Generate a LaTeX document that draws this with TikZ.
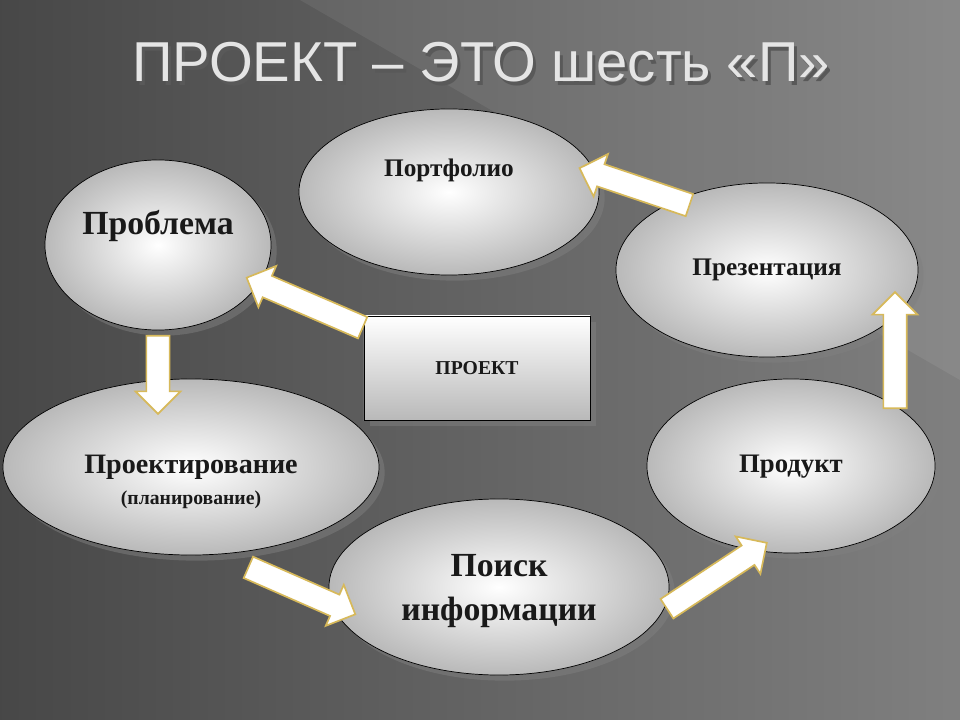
\documentclass[tikz,border=0pt]{standalone}
\usepackage{fontspec}
\setmainfont{Liberation Serif}
\newfontfamily\titlefont{Liberation Sans}
\usetikzlibrary{calc, positioning, shapes.geometric, shapes.arrows, shadows}
\definecolor{arrgold}{RGB}{215,185,90}
\tikzset{
  bubble/.style={ellipse, draw=black, line width=0.5pt, inner color=white, outer color=gray!55,
    drop shadow={shadow xshift=4pt, shadow yshift=-4pt, opacity=0.5}},
  label/.style={font=\bfseries, text=black!90},
  blockarr/.style={single arrow, draw=arrgold, line width=1.2pt, fill=white, inner xsep=0pt,
    inner ysep=0.27cm, minimum width=1.1cm, single arrow head extend=0.27cm,
    single arrow head indent=0pt, anchor=center}
}
\newcommand{\blockarrow}[2]{%
  \path let \p1=($(#2)-(#1)$), \n1={atan2(\y1,\x1)}, \n2={veclen(\x1,\y1)} in
    node[blockarr, rotate=\n1, minimum height=\n2] at ($(#1)!0.5!(#2)$) {};}
\begin{document}
\begin{tikzpicture}[x=0.025cm, y=-0.025cm]
  % background
  \shade[left color=black!72, right color=black!50] (0,0) rectangle (960,720);
  \fill[white, opacity=0.07] (300,0) -- (960,0) -- (960,380) -- cycle;
  \useasboundingbox (0,0) rectangle (960,720);
  % title
  \node[text=black!65, font=\titlefont\fontsize{40}{46}\selectfont] (titleshadow) at (484,66) {ПРОЕКТ – ЭТО шесть «П»};
  \node[text=gray!20, font=\titlefont\fontsize{40}{46}\selectfont] (title) at (481,62) {ПРОЕКТ – ЭТО шесть «П»};
  % bubbles
  \node[bubble, minimum width=5.65cm, minimum height=4.25cm] (problem) at (158,245) {};
  \node[bubble, minimum width=7.5cm, minimum height=4.15cm] (portfolio) at (449,192) {};
  \node[bubble, minimum width=7.55cm, minimum height=4.35cm] (present) at (767,270) {};
  \node[draw=black, line width=0.5pt, top color=white, bottom color=gray!55,
    drop shadow={shadow xshift=4pt, shadow yshift=-4pt, opacity=0.5},
    minimum width=5.65cm, minimum height=2.6cm] (project) at (477,368) {};
  \node[bubble, minimum width=9.4cm, minimum height=4.4cm] (design) at (191,467) {};
  \node[bubble, minimum width=8.5cm, minimum height=4.4cm] (search) at (499,587) {};
  \node[bubble, minimum width=7.2cm, minimum height=4.35cm] (product) at (791,466) {};
  % texts
  \node[label, font=\bfseries\fontsize{24}{27}\selectfont] (problemtxt) at (158,226) {Проблема};
  \node[label, font=\bfseries\fontsize{18}{21}\selectfont] (portfoliotxt) at (449,170) {Портфолио};
  \node[label, font=\bfseries\fontsize{18}{21}\selectfont] (presenttxt) at (767,270) {Презентация};
  \node[label, font=\bfseries\fontsize{14}{16}\selectfont] (projecttxt) at (477,368) {ПРОЕКТ};
  \node[label, font=\bfseries\fontsize{20}{23}\selectfont] (designtxt) at (191,467) {Проектирование};
  \node[label, font=\bfseries\fontsize{14}{16}\selectfont] (plantxt) at (191,500) {(планирование)};
  \node[label, align=center, font=\bfseries\fontsize{24}{31}\selectfont] (searchtxt) at (499,591) {Поиск\\информации};
  \node[label, font=\bfseries\fontsize{19}{22}\selectfont] (producttxt) at (791,467) {Продукт};
  % arrows
  \coordinate (a1) at (368,330); \coordinate (b1) at (252,280);
  \coordinate (a2) at (158,330); \coordinate (b2) at (158,408);
  \coordinate (a3) at (243,565); \coordinate (b3) at (350,612);
  \coordinate (a4) at (662,612); \coordinate (b4) at (762,546);
  \coordinate (a5) at (895,414); \coordinate (b5) at (895,298);
  \coordinate (a6) at (695,207); \coordinate (b6) at (585,170);
  \blockarrow{a1}{b1}
  \blockarrow{a2}{b2}
  \blockarrow{a3}{b3}
  \blockarrow{a4}{b4}
  \blockarrow{a5}{b5}
  \blockarrow{a6}{b6}
\end{tikzpicture}
\end{document}
